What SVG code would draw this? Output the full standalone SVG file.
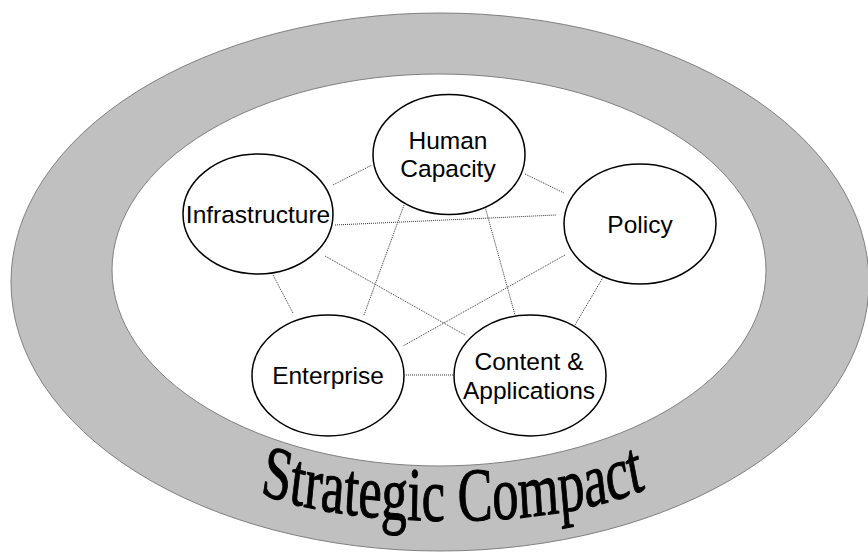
<svg xmlns="http://www.w3.org/2000/svg" width="868" height="552" viewBox="0 0 868 552">
<style>
.node ellipse{fill:#fff;stroke:#000;stroke-width:1.5}
.node text{font-family:"Liberation Sans",Arial,sans-serif;font-size:24.5px;fill:#000;text-anchor:middle}
.conn line{stroke:#333;stroke-width:1;stroke-dasharray:1 1}
.title{font-family:"Liberation Serif","Times New Roman",serif;font-size:76px;fill:#000;stroke:#000;stroke-width:1.1;stroke-linejoin:round}
</style>
<defs>
<path id="arc" d="M 376.8 493 C 492.8 528 811.6 536 956.5 482"/>
</defs>
<g id="ring">
<ellipse cx="440" cy="282" rx="429" ry="269" fill="#c0c0c0" stroke="#808080" stroke-width="1"/>
<ellipse cx="439" cy="270" rx="327" ry="196" fill="#fff" stroke="#808080" stroke-width="1"/>
</g>
<g id="title">
<text class="title" transform="scale(0.69,1)"><textPath href="#arc" startOffset="0">Strategic Compact</textPath></text>
</g>
<g id="connectors" class="conn">
<line x1="333" y1="185" x2="372" y2="165"/>
<line x1="335" y1="225" x2="556" y2="215"/>
<line x1="325" y1="256" x2="465" y2="335"/>
<line x1="273" y1="275" x2="293" y2="313"/>
<line x1="404" y1="205" x2="364" y2="315"/>
<line x1="484" y1="203" x2="515" y2="315"/>
<line x1="525" y1="174" x2="564" y2="193"/>
<line x1="565" y1="255" x2="403" y2="346"/>
<line x1="605" y1="274" x2="575" y2="325"/>
<line x1="406" y1="375" x2="453" y2="375"/>
</g>
<g id="node-infrastructure" class="node">
<ellipse cx="258" cy="214" rx="75" ry="60"/>
<text x="258" y="222.5">Infrastructure</text>
</g>
<g id="node-human-capacity" class="node">
<ellipse cx="449" cy="154.5" rx="76" ry="60"/>
<text x="448" y="149">Human</text>
<text x="448" y="177">Capacity</text>
</g>
<g id="node-policy" class="node">
<ellipse cx="640" cy="224" rx="76" ry="60"/>
<text x="640" y="233">Policy</text>
</g>
<g id="node-enterprise" class="node">
<ellipse cx="328" cy="375.5" rx="76" ry="60.5"/>
<text x="328" y="384">Enterprise</text>
</g>
<g id="node-content-applications" class="node">
<ellipse cx="530" cy="375.5" rx="76" ry="60.5"/>
<text x="529" y="369.5">Content &amp;</text>
<text x="529" y="398.5">Applications</text>
</g>
</svg>
